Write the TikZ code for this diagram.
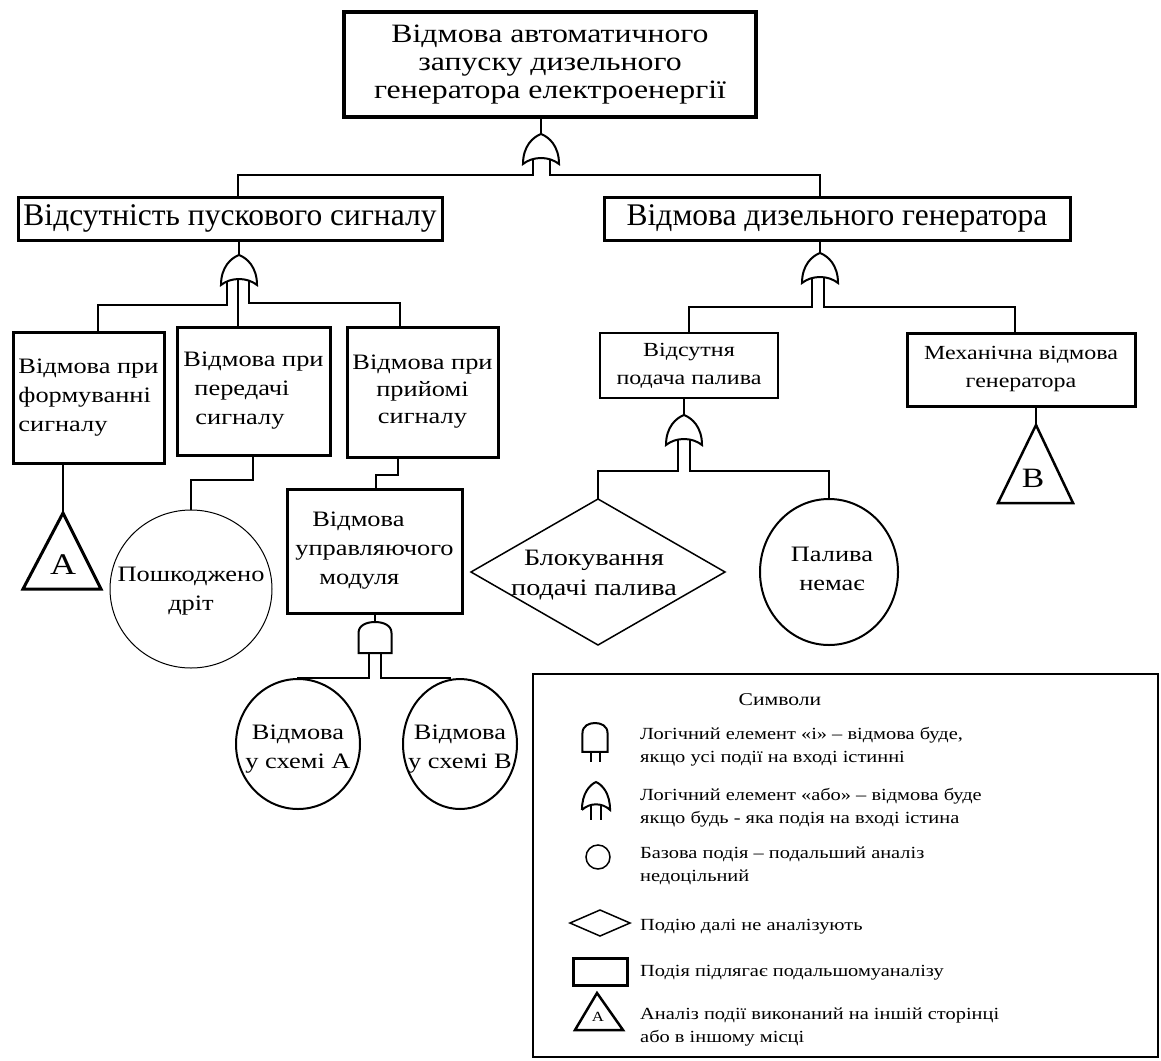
\documentclass[tikz,border=0pt]{standalone}
\usepackage{fontspec}
\setmainfont{Liberation Serif}[FakeStretch=1.2]
\newfontfamily\plainserif{Liberation Serif}
\usetikzlibrary{shapes.geometric,calc}
\begin{document}
\begin{tikzpicture}[x=1pt,y=-1pt,
  box/.style={draw, line width=3pt, inner sep=0pt, align=center},
  lnk/.style={line width=2pt},
  gatel/.style={line width=2pt},
  big/.style={font=\fontsize{26.5}{28}\selectfont},
  lvl/.style={font=\plainserif\fontsize{31.5}{32}\selectfont},
  mid/.style={font=\fontsize{22}{29}\selectfont},
  sml/.style={font=\fontsize{20}{28}\selectfont},
  lbl/.style={inner sep=0pt, align=center},
  leg/.style={font=\fontsize{17}{23}\selectfont, anchor=west, align=left, inner sep=0pt},
  orgate/.pic={\draw[gatel, fill=white] (-18,30) .. controls (-18,12) and (-8,3) .. (0,0) .. controls (8,3) and (18,12) .. (18,30) .. controls (8,22) and (-8,22) .. cycle;},
  andgate/.pic={\draw[gatel, fill=white] (-16.5,31) -- (-16.5,11) .. controls (-16.5,3) and (-8,0) .. (0,0) .. controls (8,0) and (16.5,3) .. (16.5,11) -- (16.5,31) -- cycle;},
]
\fill[white] (0,0) rectangle (1161,1060);
\useasboundingbox (0,0) rectangle (1161,1060);

% ---------- boxes ----------
\node[box, line width=3.5pt, big, minimum width=412pt, minimum height=105pt] (T) at (550,64.5) {Відмова автоматичного\\запуску дизельного\\генератора електроенергії};
\node[box, lvl, minimum width=424pt, minimum height=43pt] (L) at (230,218.5) {Відсутність пускового сигналу};
\node[box, lvl, minimum width=466pt, minimum height=43pt] (R) at (837,218.5) {Відмова дизельного генератора};

\node[box, mid, align=left, minimum width=151pt, minimum height=131pt] (B1) at (88.5,397.5) {Відмова при\\формуванні\\сигналу};
\node[box, mid, align=left, minimum width=153pt, minimum height=128pt] (B2) at (253.5,391) {Відмова при\\\hspace*{11pt}передачі\\\hspace*{12pt}сигналу};
\node[box, font=\fontsize{22}{27}\selectfont, minimum width=151pt, minimum height=130pt] (B3) at (422.5,392) {Відмова при\\прийомі\\сигналу};
\node[box, mid, align=left, minimum width=175pt, minimum height=124pt] (MB) at (374.5,551) {\hspace*{17pt}Відмова\\управляючого\\\hspace*{24pt}модуля};
\node[box, sml, line width=2.5pt, minimum width=178pt, minimum height=65pt] (F) at (689,365.5) {Відсутня\\подача палива};
\node[box, sml, minimum width=228pt, minimum height=73pt] (M) at (1021,369.5) {Механічна відмова\\генератора};

% ---------- basic events ----------
\coordinate (Wtop) at (191,510);
\draw[line width=1pt] (191,589) ellipse [x radius=81, y radius=79];
\node[lbl, mid] (W) at (191,591) {Пошкоджено\\дріт};

\coordinate (CAtop) at (298,679);
\draw[line width=2pt] (298,744) ellipse [x radius=62, y radius=65];
\node[lbl, mid] (CA) at (298,749) {Відмова\\у схемі A};

\coordinate (CBtop) at (450,680);
\draw[line width=2pt] (460,744) ellipse [x radius=57, y radius=65];
\node[lbl, mid] (CB) at (460,749) {Відмова\\у схемі B};

\coordinate (Ntop) at (829,499);
\draw[line width=2pt] (829,572) ellipse [x radius=69, y radius=73];
\node[lbl, mid] (N) at (832,569) {Палива\\немає};

% diamond
\coordinate (Dtop) at (598,499);
\draw[line width=1.5pt] (471,572) -- (Dtop) -- (725,572) -- (598,645) -- cycle;
\node[lbl, font=\fontsize{23.5}{30}\selectfont] (D) at (594,575) {Блокування\\подачі палива};

% transfer triangles
\coordinate (tA) at (63,513);
\coordinate (tB) at (1036,425);
\draw[line width=3pt] (tA) -- (101,589) -- (23,589) -- cycle;
\node[font=\fontsize{30}{30}\selectfont, inner sep=0pt] (lA) at (63,565) {A};
\draw[line width=2.5pt] (tB) -- (1073,503) -- (998,503) -- cycle;
\node[font=\fontsize{28}{28}\selectfont, inner sep=0pt] (lB) at (1033,478) {B};

% ---------- connectors ----------
\coordinate (g1) at (541,134);
\draw[lnk] (T.south -| g1) -- (g1);
\draw[lnk] ($(g1)+(-8,22)$) -- ($(g1)+(-8,41)$) -| ([xshift=8pt]L.north);
\draw[lnk] ($(g1)+(9,22)$) -- ($(g1)+(9,41)$) -| ([xshift=-17pt]R.north);

\coordinate (g2) at (239,255);
\draw[lnk] (L.south -| g2) -- (g2);
\draw[lnk] ($(g2)+(-12,22)$) -- ($(g2)+(-12,50)$) -| ([xshift=9.5pt]B1.north);
\draw[lnk] ($(g2)+(-1,22)$) -- ([xshift=-15.5pt]B2.north);
\draw[lnk] ($(g2)+(10,22)$) -- ($(g2)+(10,48)$) -| ([xshift=-22.5pt]B3.north);

\coordinate (g3) at (820,253);
\draw[lnk] (R.south -| g3) -- (g3);
\draw[lnk] ($(g3)+(-8,22)$) -- ($(g3)+(-8,54)$) -| (F.north);
\draw[lnk] ($(g3)+(4,22)$) -- ($(g3)+(4,54)$) -| ([xshift=-6pt]M.north);

\coordinate (g4) at (684,415);
\draw[lnk] (F.south -| g4) -- (g4);
\draw[lnk] ($(g4)+(-6,22)$) -- ($(g4)+(-6,56)$) -| (Dtop);
\draw[lnk] ($(g4)+(6,22)$) -- ($(g4)+(6,56)$) -| (Ntop);

\draw[lnk] (M.south -| tB) -- (tB);
\draw[lnk] (B1.south -| tA) -- (tA);
\draw[lnk] ([xshift=-0.5pt]B2.south) -- ++(0,23) -| (Wtop);
\draw[lnk] ([xshift=-24.5pt]B3.south) -- ++(0,16) -| ([xshift=1.5pt]MB.north);

\coordinate (g5) at (375,622);
\draw[lnk] (MB.south -| g5) -- (g5);
\draw[lnk] ($(g5)+(-6,25)$) -- ($(g5)+(-6,56)$) -| (CAtop);
\draw[lnk] ($(g5)+(6,25)$) -- ($(g5)+(6,56)$) -| (CBtop);

% ---------- gates ----------
\pic at (g1) {orgate};
\pic at (g2) {orgate};
\pic at (g3) {orgate};
\pic at (g4) {orgate};
\pic at (g5) {andgate};

% ---------- legend ----------
\node[draw, line width=1.5pt, minimum width=625pt, minimum height=383pt, inner sep=0pt] (LG) at (845.5,865.5) {};
\node[font=\fontsize{18}{20}\selectfont] (l0) at (780,700) {Символи};
\node[leg] (l1) at (640,746.5) {Логічний елемент «і» – відмова буде,\\якщо усі події на вході істинні};
\node[leg] (l2) at (640,807.5) {Логічний елемент «або» – відмова буде\\якщо будь - яка подія на вході істина};
\node[leg] (l3) at (640,866) {Базова подія – подальший аналіз\\недоцільний};
\node[leg] (l4) at (640,927) {Подію далі не аналізують};
\node[leg] (l5) at (640,973) {Подія підлягає подальшомуаналізу};
\node[leg] (l6) at (640,1027.5) {Аналіз події виконаний на іншій сторінці\\або в іншому місці};

\draw[line width=1.6pt] (591,745) -- (591,762) (600,745) -- (600,762);
\pic[xscale=0.76, yscale=0.93] at (595,723) {andgate};
\draw[line width=1.6pt] (591,800) -- (591,820) (601,800) -- (601,820);
\pic[xscale=0.78, yscale=0.93] at (596,782) {orgate};
\draw[line width=1.5pt] (598,857) circle[radius=12];
\draw[line width=1.5pt] (570,923) -- (600,910) -- (630,923) -- (600,936) -- cycle;
\draw[line width=3pt] (573,958) rectangle (627,985);
\draw[line width=2.5pt] (597,993) -- (623,1030) -- (575,1030) -- cycle;
\node[font=\fontsize{14}{14}\selectfont, inner sep=0pt] (la) at (598,1017) {A};
\end{tikzpicture}
\end{document}
